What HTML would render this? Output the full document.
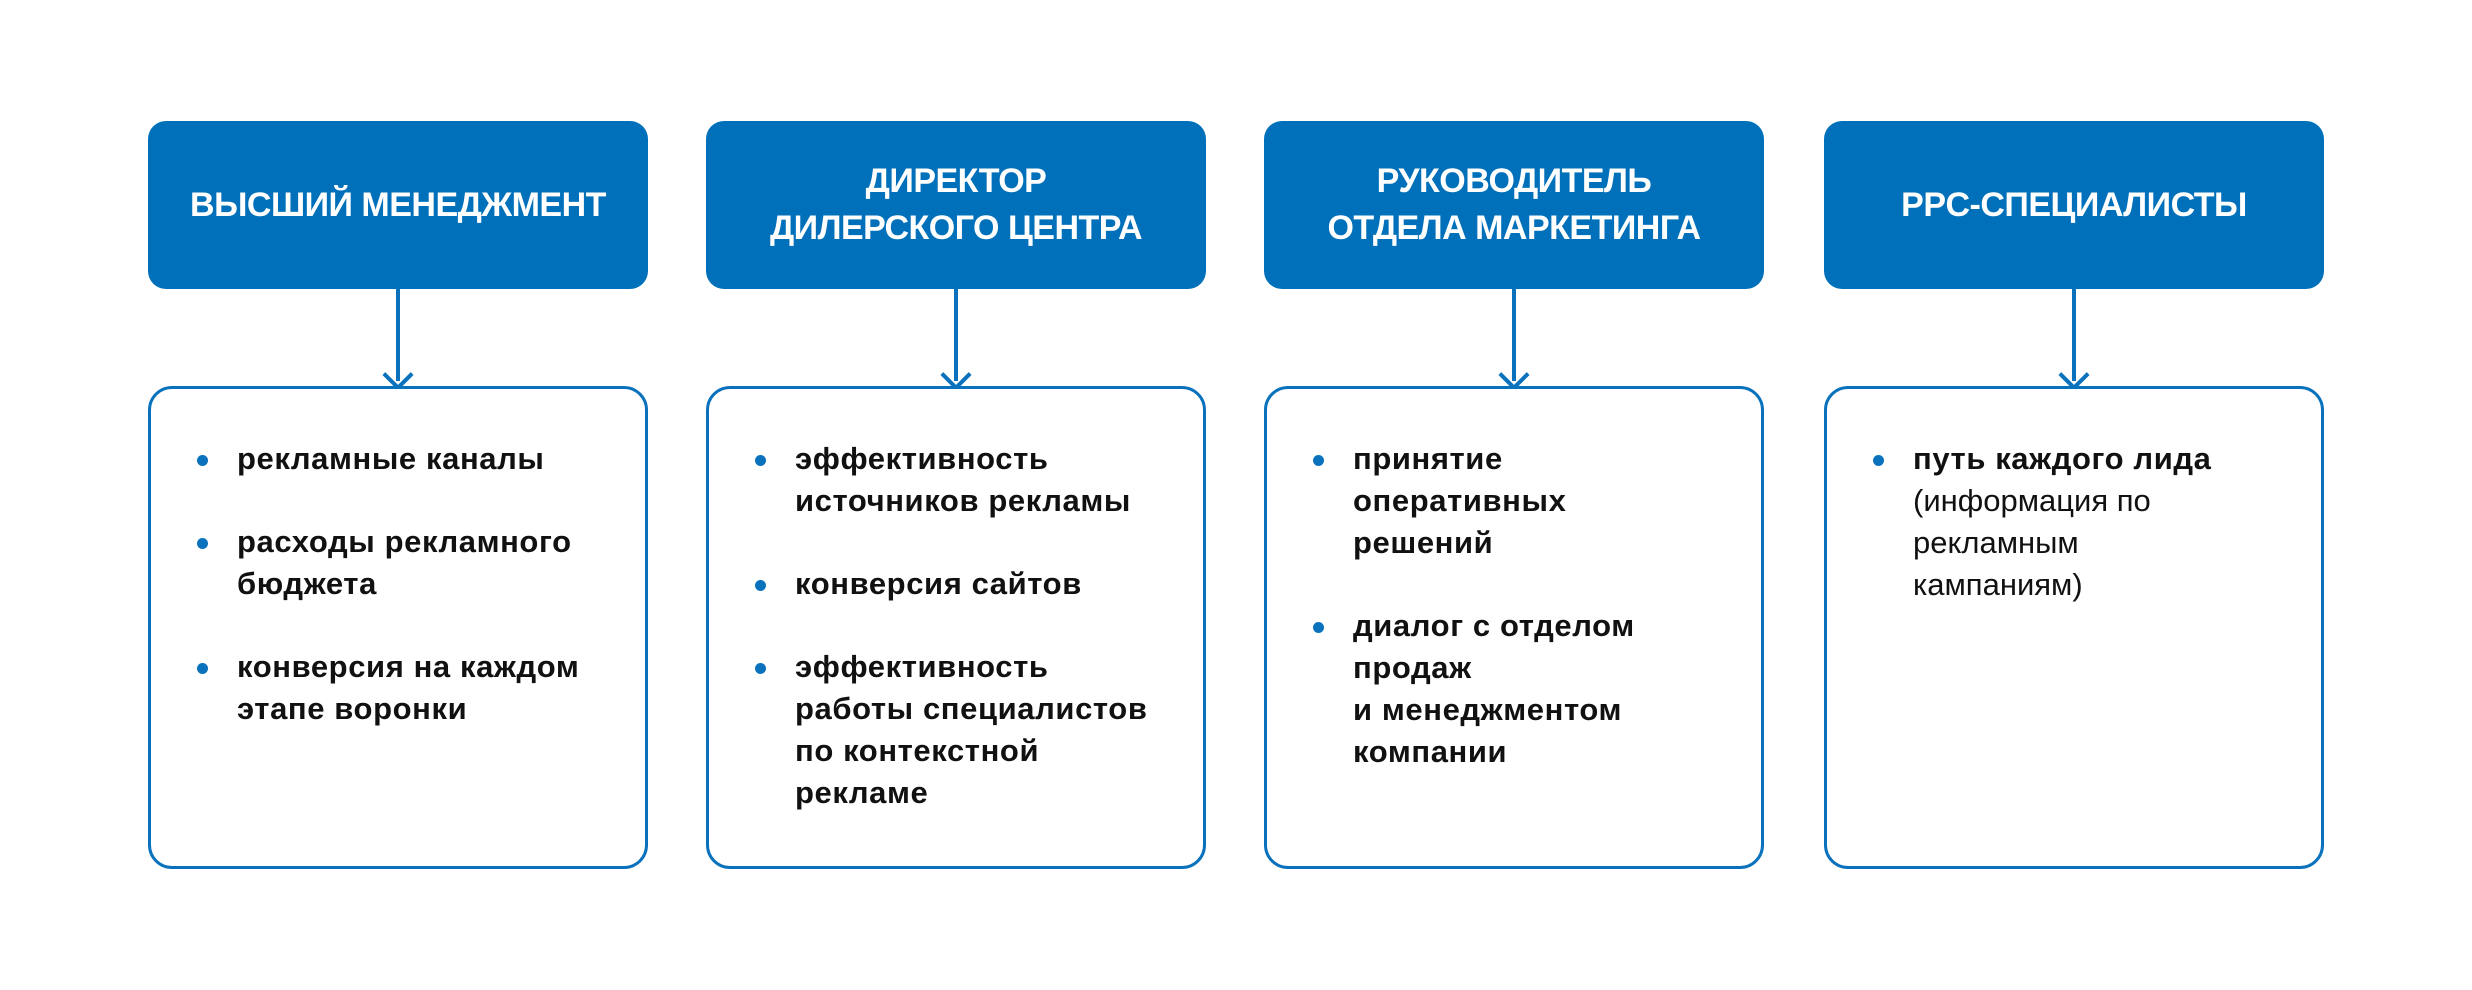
<!DOCTYPE html>
<html><head><meta charset="utf-8"><style>
body{margin:0;width:2472px;height:990px;background:#fff;position:relative;overflow:hidden;font-family:"Liberation Sans",sans-serif}
.h{position:absolute;top:121px;width:500px;height:168px;background:#0070ba;border-radius:18px;color:#fff;font-weight:bold;font-size:34px;line-height:47px;display:flex;align-items:center;justify-content:center;text-align:center;letter-spacing:-0.5px}
.b{position:absolute;top:386px;width:494px;height:477px;border:3.5px solid #0a72bc;border-radius:24px;background:#fff}
.a{position:absolute;top:289px;width:4px;height:92px;background:#0a72bc}
.ah{position:absolute;top:364px;width:18px;height:18px;border-right:4px solid #0a72bc;border-bottom:4px solid #0a72bc;transform:rotate(45deg)}
ul{list-style:none;margin:0;padding:0;position:absolute;left:86px;top:49px;width:400px}
li{position:relative;font-weight:bold;font-size:31px;letter-spacing:0.6px;line-height:42px;color:#111;margin-bottom:41px}
li:before{content:"";position:absolute;left:-40px;top:17px;width:11px;height:11px;border-radius:50%;background:#0a72bc}
.n{font-weight:normal;letter-spacing:0}
</style></head><body>
<div class="h" style="left:148px">ВЫСШИЙ МЕНЕДЖМЕНТ</div>
<div class="h" style="left:706px">ДИРЕКТОР<br>ДИЛЕРСКОГО ЦЕНТРА</div>
<div class="h" style="left:1264px">РУКОВОДИТЕЛЬ<br>ОТДЕЛА МАРКЕТИНГА</div>
<div class="h" style="left:1824px">PPC-СПЕЦИАЛИСТЫ</div>

<div class="a" style="left:396px"></div><div class="ah" style="left:387px"></div>
<div class="a" style="left:954px"></div><div class="ah" style="left:945px"></div>
<div class="a" style="left:1512px"></div><div class="ah" style="left:1503px"></div>
<div class="a" style="left:2072px"></div><div class="ah" style="left:2063px"></div>

<div class="b" style="left:148px"><ul>
<li>рекламные каналы</li>
<li>расходы рекламного бюджета</li>
<li>конверсия на каждом этапе воронки</li></ul></div>
<div class="b" style="left:706px"><ul>
<li>эффективность<br>источников рекламы</li>
<li>конверсия сайтов</li>
<li>эффективность<br>работы специалистов<br>по контекстной<br>рекламе</li></ul></div>
<div class="b" style="left:1264px"><ul>
<li>принятие<br>оперативных<br>решений</li>
<li>диалог с отделом<br>продаж<br>и менеджментом<br>компании</li></ul></div>
<div class="b" style="left:1824px"><ul>
<li>путь каждого лида<br><span class="n">(информация по<br>рекламным<br>кампаниям)</span></li></ul></div>
</body></html>
